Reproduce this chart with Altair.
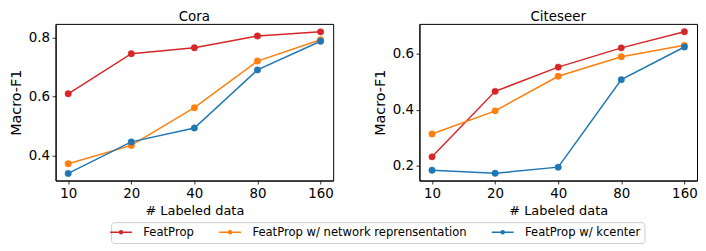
import altair as alt
import pandas as pd

x_labels = ["10", "20", "40", "80", "160"]
series_names = ["FeatProp", "FeatProp w/ network reprensentation", "FeatProp w/ kcenter"]
series_colors = ["#d62728", "#ff7f0e", "#1f77b4"]

cora_featprop = [0.609, 0.745, 0.765, 0.805, 0.819]
cora_network = [0.372, 0.434, 0.562, 0.720, 0.792]
cora_kcenter = [0.339, 0.446, 0.493, 0.690, 0.787]

citeseer_featprop = [0.231, 0.466, 0.553, 0.622, 0.680]
citeseer_network = [0.313, 0.396, 0.520, 0.590, 0.631]
citeseer_kcenter = [0.183, 0.172, 0.194, 0.508, 0.625]

cora_domain = [0.315, 0.846]
cora_ticks = [0.4, 0.6, 0.8]
citeseer_domain = [0.146, 0.708]
citeseer_ticks = [0.2, 0.4, 0.6]

FONT = "DejaVu Sans"


def make_df(vals_list):
    rows = []
    for name, vals in zip(series_names, vals_list):
        for lab, v in zip(x_labels, vals):
            rows.append({"n": lab, "series": name, "f1": v})
    return pd.DataFrame(rows)


# line of 22px with a dot, drawn on a 10px symbol cell
symbol_path = "M-2.2,0H2.2M-0.31,0A0.31,0.31,0,1,1,0.31,0A0.31,0.31,0,1,1,-0.31,0"


def make_legend():
    return alt.Legend(
        orient="none", legendX=56, legendY=200, direction="horizontal", title=None,
        symbolType=symbol_path, symbolSize=100, symbolStrokeWidth=1.5,
        labelFont=FONT, labelFontSize=11.7, labelColor="black", labelLimit=600,
        columnPadding=22, labelOffset=16.5, padding=4,
        strokeColor="#cccccc", cornerRadius=3, fillColor="white",
        symbolOpacity=1,
    )


color_scale = alt.Scale(domain=series_names, range=series_colors)


def panel(df, title, domain, ticks):
    x = alt.X("n:O", sort=x_labels, scale=alt.Scale(padding=0.2),
              axis=alt.Axis(labelAngle=0, title="# Labeled data", titleFontSize=13))
    y = alt.Y("f1:Q", scale=alt.Scale(domain=domain, nice=False, zero=False),
              axis=alt.Axis(values=ticks, format=".1f", title="Macro-F1", titleFontSize=14.5))
    base = alt.Chart(df)
    lines = base.mark_line(strokeWidth=1.5).encode(
        x=x, y=y,
        stroke=alt.Stroke("series:N", sort=series_names, scale=color_scale, legend=make_legend()),
    )
    pts = base.mark_point(filled=True, size=42, opacity=1, strokeWidth=0.5).encode(
        x=x, y=y,
        fill=alt.Fill("series:N", sort=series_names, scale=color_scale, legend=make_legend()),
        stroke=alt.Stroke("series:N", sort=series_names, scale=color_scale, legend=make_legend()),
    )
    return alt.layer(lines, pts).properties(
        width=280, height=158,
        title=alt.TitleParams(title, font=FONT, fontSize=13.5, fontWeight="normal",
                              color="black", offset=0.5),
    )


left = panel(make_df([cora_featprop, cora_network, cora_kcenter]), "Cora", cora_domain, cora_ticks)
right = panel(make_df([citeseer_featprop, citeseer_network, citeseer_kcenter]), "Citeseer",
              citeseer_domain, citeseer_ticks)

chart = alt.hconcat(left, right, spacing=38).properties(
    padding={"left": 0, "top": 0, "right": 0, "bottom": 0}
).configure_view(
    stroke="black", strokeWidth=1
).configure_axis(
    labelFont=FONT, labelFontSize=13.5, labelColor="black",
    titleFont=FONT, titleFontWeight="normal", titleColor="black",
    grid=False, domainColor="black", domainWidth=1,
    tickColor="black", tickSize=3.5, tickWidth=0.8, labelPadding=2.5,
    titlePadding=5,
)

chart.save("out.html", embed_options={"renderer": "svg", "actions": False})
